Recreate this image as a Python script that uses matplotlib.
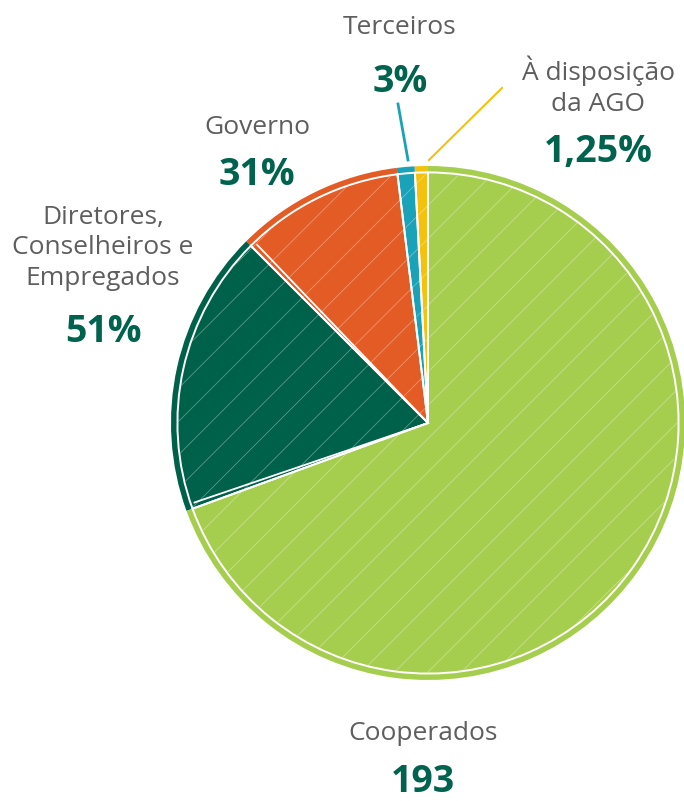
import numpy as np
import matplotlib.pyplot as plt
from matplotlib.patches import Wedge

# Shares of the pie, counter-clockwise from the top (degrees of arc)
groups = ["À disposição da AGO", "Terceiros", "Governo",
          "Diretores, Conselheiros e Empregados", "Cooperados"]
shares = [3.0, 4.0, 38.0, 65.0, 250.0]
colors = ["#F4C20D", "#1AA2B8", "#E35B25", "#00614A", "#A6CE4E"]

# Label texts
names = ["À disposição\nda AGO", "Terceiros", "Governo",
         "Diretores,\nConselheiros e\nEmpregados", "Cooperados"]
values = ["1,25%", "3%", "31%", "51%", "193"]

W, H = 684, 801
fig = plt.figure(figsize=(W / 100, H / 100), dpi=100)
ax = fig.add_axes([0, 0, 1, 1])

cx, cy, r = 428, H - 423, 257

plt.rcParams['hatch.linewidth'] = 0.6

wedges, _ = ax.pie(shares, colors=colors, startangle=90, counterclock=True,
                   center=(cx, cy), radius=r, frame=True,
                   wedgeprops=dict(linewidth=0))
for w, c in zip(wedges, colors):
    # light diagonal strokes over each slice
    strokes = Wedge((cx, cy), r * 0.97, w.theta1, w.theta2, facecolor="none",
                    edgecolor="white", linewidth=0, hatch="/", alpha=0.35)
    ax.add_patch(strokes)
    # inner white rim for the sketchy outline
    inner = Wedge((cx, cy), r * 0.975, w.theta1, w.theta2,
                  facecolor="none", edgecolor="white", linewidth=1.4)
    ax.add_patch(inner)

# white seams just inside the slice borders of the bigger slices
for i in (2, 3):
    t = np.radians(wedges[i].theta2 - 1.2)
    ax.plot([cx, cx + r * 0.96 * np.cos(t)], [cy, cy + r * 0.96 * np.sin(t)],
            color="white", lw=1.3)

gray = "#5E5E5E"
green = "#00634D"
fam = ["Open Sans", "DejaVu Sans"]

def label(x, y, name, value, dy):
    ax.text(x, H - y, name, ha="center", va="center", fontsize=19,
            color=gray, family=fam, linespacing=1.3)
    ax.text(x, H - y - dy, value, ha="center", va="center", fontsize=27,
            color=green, family=fam, fontweight="bold")

label(598, 86, names[0], values[0], 66)
label(400, 28, names[1], values[1], 54)
label(257, 127, names[2], values[2], 48)
label(103, 248, names[3], values[3], 84)
label(423, 733, names[4], values[4], 49)

# leader lines for the two thin slices
ax.plot([398, 408], [H - 104, H - 160], color=colors[1], lw=2)
ax.plot([502, 429], [H - 88, H - 160], color=colors[0], lw=1.5)

ax.set_xlim(0, W)
ax.set_ylim(0, H)
ax.set_aspect("equal")
ax.axis("off")

fig.savefig("out.png", dpi=100)
